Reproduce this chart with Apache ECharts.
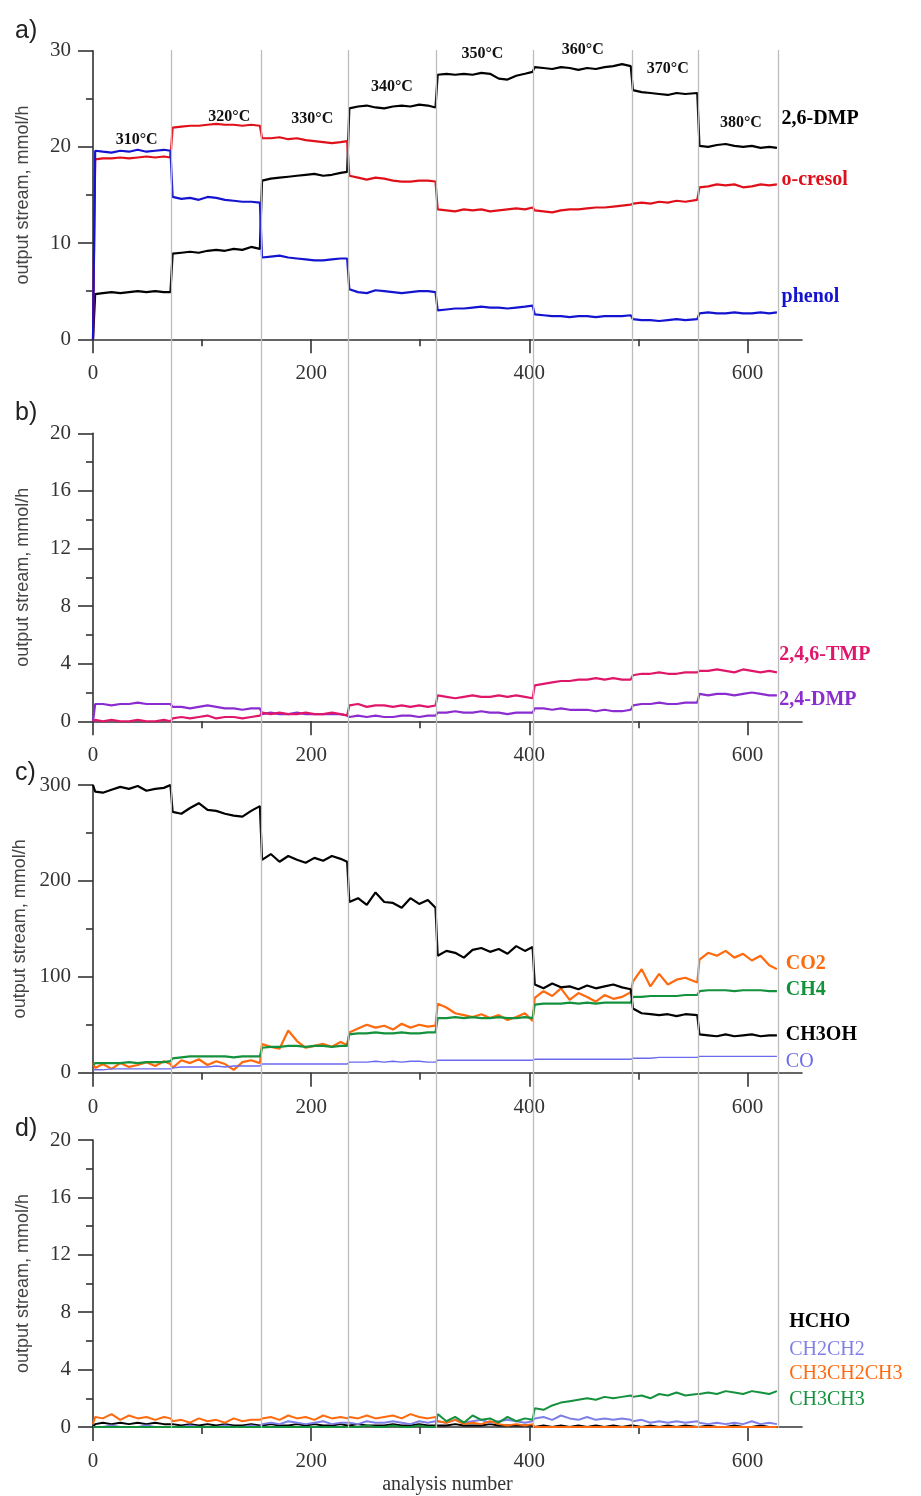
<!DOCTYPE html>
<html>
<head>
<meta charset="utf-8">
<script src="https://cdn.jsdelivr.net/npm/echarts@6/dist/echarts.min.js"></script>
<style>
  html, body { margin: 0; padding: 0; background: #fff; }
  #main { width: 921px; height: 1496px; }
</style>
</head>
<body>
<div id="main"></div>
<script>
// analysis numbers sampled along the run (shared by every trace)
var X = [0, 2, 9, 17, 25, 33, 41, 49, 57, 65, 71,
  73, 81, 89, 97, 105, 113, 121, 129, 137, 145, 153,
  155, 163, 171, 179, 187, 195, 203, 211, 219, 227, 233,
  235, 243, 251, 259, 267, 275, 283, 291, 299, 307, 314,
  316, 324, 332, 340, 348, 356, 364, 372, 380, 388, 396, 403,
  405, 413, 421, 429, 437, 445, 453, 461, 469, 477, 485, 493,
  495, 503, 511, 519, 527, 535, 543, 554,
  556, 564, 572, 580, 588, 596, 604, 612, 620, 627];

// temperature step changes
var boundaries = [72, 154, 234, 315, 404, 494, 555, 628];
var tempNames = ['310°C', '320°C', '330°C', '340°C', '350°C', '360°C', '370°C', '380°C'];
var tempX = [40, 125, 201, 274, 357, 449, 527, 594];
var tempY = [20.7, 23.1, 22.9, 26.2, 29.7, 30.1, 28.1, 22.5];

// a) mmol/h
var dmp26 = [0, 4.7, 4.8, 4.9, 4.8, 4.9, 5.0, 4.9, 5.0, 4.9, 4.9,
  8.9, 9.0, 9.1, 9.0, 9.2, 9.3, 9.2, 9.4, 9.3, 9.6, 9.4,
  16.5, 16.7, 16.8, 16.9, 17.0, 17.1, 17.2, 17.0, 17.1, 17.3, 17.4,
  24.0, 24.2, 24.3, 24.1, 24.0, 24.2, 24.3, 24.2, 24.4, 24.3, 24.1,
  27.5, 27.6, 27.5, 27.6, 27.5, 27.7, 27.6, 27.1, 27.0, 27.4, 27.6, 27.8,
  28.3, 28.2, 28.1, 28.3, 28.2, 28.0, 28.2, 28.1, 28.3, 28.4, 28.6, 28.4,
  25.9, 25.7, 25.6, 25.5, 25.4, 25.6, 25.5, 25.6,
  20.1, 20.0, 20.2, 20.3, 20.1, 20.0, 20.1, 19.9, 20.0, 19.9];
var cresol = [0, 18.7, 18.8, 18.8, 18.9, 18.8, 18.9, 19.0, 18.9, 19.0, 18.9,
  22.0, 22.1, 22.2, 22.2, 22.3, 22.4, 22.3, 22.3, 22.2, 22.3, 22.2,
  20.9, 20.9, 21.0, 20.8, 20.9, 20.7, 20.6, 20.5, 20.4, 20.5, 20.6,
  17.0, 16.8, 16.6, 16.8, 16.7, 16.5, 16.4, 16.4, 16.5, 16.5, 16.4,
  13.5, 13.4, 13.3, 13.5, 13.4, 13.5, 13.3, 13.4, 13.5, 13.6, 13.5, 13.7,
  13.4, 13.3, 13.2, 13.4, 13.5, 13.5, 13.6, 13.7, 13.7, 13.8, 13.9, 14.0,
  14.1, 14.2, 14.1, 14.3, 14.2, 14.4, 14.3, 14.5,
  15.8, 15.9, 16.1, 16.0, 16.1, 15.8, 15.9, 16.1, 16.0, 16.1];
var phenol = [0, 19.6, 19.5, 19.4, 19.6, 19.5, 19.7, 19.5, 19.6, 19.7, 19.6,
  14.8, 14.6, 14.7, 14.5, 14.8, 14.7, 14.5, 14.4, 14.3, 14.3, 14.2,
  8.5, 8.6, 8.7, 8.5, 8.4, 8.3, 8.2, 8.2, 8.3, 8.4, 8.4,
  5.2, 4.9, 4.8, 5.1, 5.0, 4.9, 4.8, 4.9, 5.0, 5.0, 4.9,
  3.0, 3.1, 3.2, 3.2, 3.3, 3.4, 3.3, 3.3, 3.2, 3.3, 3.4, 3.5,
  2.6, 2.5, 2.4, 2.4, 2.3, 2.4, 2.4, 2.3, 2.4, 2.4, 2.4, 2.5,
  2.1, 2.0, 2.0, 1.9, 2.0, 2.1, 2.0, 2.1,
  2.7, 2.8, 2.7, 2.7, 2.8, 2.7, 2.7, 2.8, 2.7, 2.8];

// b)
var tmp246 = [0, 0.1, 0.0, 0.1, 0.0, 0.0, 0.1, 0.0, 0.0, 0.1, 0.0,
  0.2, 0.3, 0.2, 0.3, 0.4, 0.2, 0.3, 0.3, 0.2, 0.3, 0.4,
  0.6, 0.5, 0.6, 0.5, 0.5, 0.6, 0.5, 0.5, 0.6, 0.5, 0.4,
  1.1, 1.2, 1.0, 1.1, 1.1, 1.0, 1.1, 1.0, 1.1, 1.0, 1.1,
  1.8, 1.7, 1.6, 1.7, 1.8, 1.7, 1.7, 1.8, 1.7, 1.8, 1.7, 1.6,
  2.5, 2.6, 2.7, 2.8, 2.8, 2.9, 2.9, 3.0, 2.9, 3.0, 2.9, 2.9,
  3.2, 3.3, 3.3, 3.4, 3.3, 3.3, 3.4, 3.4,
  3.5, 3.5, 3.6, 3.5, 3.4, 3.6, 3.5, 3.4, 3.5, 3.4];
var dmp24 = [0, 1.2, 1.2, 1.1, 1.2, 1.2, 1.3, 1.2, 1.2, 1.2, 1.2,
  1.0, 1.0, 0.9, 1.0, 1.1, 1.0, 0.9, 0.9, 0.8, 0.9, 0.9,
  0.5, 0.6, 0.5, 0.5, 0.6, 0.5, 0.5, 0.5, 0.5, 0.5, 0.4,
  0.3, 0.4, 0.3, 0.4, 0.3, 0.3, 0.4, 0.4, 0.3, 0.4, 0.4,
  0.6, 0.6, 0.7, 0.6, 0.6, 0.7, 0.6, 0.6, 0.5, 0.6, 0.6, 0.6,
  0.9, 0.9, 0.8, 0.9, 0.8, 0.8, 0.8, 0.7, 0.8, 0.7, 0.7, 0.8,
  1.1, 1.2, 1.2, 1.3, 1.2, 1.2, 1.3, 1.3,
  1.9, 1.8, 1.9, 1.9, 1.8, 1.9, 2.0, 1.9, 1.8, 1.8];

// c)
var ch3oh = [300, 293, 292, 295, 298, 296, 299, 294, 296, 297, 300,
  272, 270, 276, 281, 274, 273, 270, 268, 267, 273, 278,
  222, 228, 220, 226, 222, 219, 224, 221, 226, 223, 220,
  178, 182, 175, 188, 178, 177, 172, 182, 176, 180, 172,
  122, 127, 125, 120, 128, 130, 126, 129, 124, 132, 127, 131,
  92, 88, 93, 89, 90, 87, 91, 88, 90, 92, 89, 87,
  67, 62, 61, 60, 61, 59, 61, 60,
  40, 39, 38, 40, 38, 39, 40, 38, 39, 39];
var co2 = [10, 5, 9, 4, 10, 6, 8, 11, 7, 12, 9,
  5, 13, 10, 14, 8, 12, 9, 3, 11, 13, 10,
  30, 27, 25, 44, 33, 26, 28, 30, 27, 32, 29,
  42, 46, 50, 47, 49, 45, 51, 47, 50, 48, 49,
  72, 68, 62, 60, 58, 61, 57, 60, 55, 58, 62, 54,
  78, 85, 80, 88, 76, 83, 79, 74, 81, 77, 79, 84,
  95, 108, 90, 103, 92, 97, 99, 94,
  118, 125, 122, 127, 120, 124, 117, 122, 112, 108];
var ch4 = [8, 10, 10, 10, 10, 11, 10, 11, 11, 11, 12,
  15, 16, 17, 17, 17, 17, 17, 16, 17, 17, 17,
  26, 27, 27, 28, 28, 27, 28, 28, 27, 28, 28,
  40, 41, 41, 42, 41, 41, 42, 41, 41, 42, 42,
  57, 57, 58, 57, 58, 57, 57, 58, 57, 57, 58, 57,
  71, 72, 72, 72, 73, 72, 73, 72, 73, 73, 73, 73,
  79, 79, 80, 80, 80, 80, 81, 81,
  85, 86, 86, 86, 85, 86, 86, 86, 85, 85];
var co = [3, 3, 3, 4, 4, 4, 4, 4, 4, 4, 4,
  5, 6, 6, 6, 6, 7, 6, 7, 7, 7, 7,
  9, 9, 9, 9, 9, 9, 9, 9, 9, 9, 9,
  11, 11, 11, 12, 11, 12, 11, 12, 12, 11, 11,
  13, 13, 13, 13, 13, 13, 13, 13, 13, 13, 13, 13,
  14, 14, 14, 14, 14, 14, 14, 14, 14, 14, 14, 14,
  15, 15, 15, 16, 16, 16, 16, 16,
  17, 17, 17, 17, 17, 17, 17, 17, 17, 17];

// d)
var hcho = [0.0, 0.2, 0.3, 0.2, 0.3, 0.2, 0.3, 0.2, 0.3, 0.2, 0.2,
  0.2, 0.1, 0.2, 0.1, 0.2, 0.1, 0.2, 0.1, 0.1, 0.2, 0.1,
  0.1, 0.2, 0.1, 0.1, 0.2, 0.1, 0.2, 0.1, 0.1, 0.2, 0.1,
  0.1, 0.2, 0.1, 0.1, 0.1, 0.2, 0.1, 0.1, 0.2, 0.1, 0.1,
  0.1, 0.1, 0.2, 0.1, 0.1, 0.1, 0.2, 0.1, 0.1, 0.1, 0.1, 0.1,
  0.0, 0.1, 0.0, 0.1, 0.0, 0.1, 0.0, 0.1, 0.0, 0.1, 0.0, 0.1,
  0.1, 0.0, 0.1, 0.0, 0.1, 0.0, 0.1, 0.0,
  0.0, 0.1, 0.0, 0.0, 0.1, 0.0, 0.0, 0.1, 0.0, 0.0];
var ch2ch2 = [0.0, 0.0, 0.0, 0.1, 0.0, 0.0, 0.0, 0.1, 0.0, 0.0, 0.0,
  0.0, 0.0, 0.1, 0.0, 0.0, 0.0, 0.1, 0.0, 0.0, 0.1, 0.0,
  0.2, 0.3, 0.2, 0.4, 0.3, 0.2, 0.3, 0.4, 0.2, 0.3, 0.3,
  0.3, 0.2, 0.4, 0.3, 0.3, 0.4, 0.3, 0.2, 0.4, 0.3, 0.4,
  0.4, 0.3, 0.5, 0.3, 0.4, 0.5, 0.3, 0.4, 0.5, 0.4, 0.3, 0.4,
  0.6, 0.7, 0.5, 0.8, 0.6, 0.5, 0.7, 0.5, 0.6, 0.5, 0.6, 0.5,
  0.4, 0.5, 0.3, 0.4, 0.3, 0.4, 0.3, 0.4,
  0.3, 0.2, 0.3, 0.2, 0.3, 0.2, 0.4, 0.2, 0.3, 0.2];
var propane = [0.2, 0.7, 0.6, 0.9, 0.5, 0.8, 0.6, 0.7, 0.5, 0.7, 0.6,
  0.4, 0.5, 0.3, 0.6, 0.4, 0.5, 0.3, 0.6, 0.4, 0.5, 0.5,
  0.6, 0.7, 0.5, 0.8, 0.6, 0.7, 0.5, 0.8, 0.6, 0.7, 0.6,
  0.7, 0.6, 0.8, 0.6, 0.7, 0.8, 0.6, 0.9, 0.7, 0.6, 0.7,
  0.4, 0.3, 0.5, 0.2, 0.3, 0.2, 0.4, 0.2, 0.1, 0.2, 0.1, 0.2,
  0.0, 0.0, 0.0, 0.0, 0.0, 0.0, 0.0, 0.0, 0.0, 0.0, 0.0, 0.0,
  0.0, 0.0, 0.0, 0.0, 0.0, 0.0, 0.0, 0.0,
  0.0, 0.0, 0.0, 0.0, 0.0, 0.0, 0.0, 0.0, 0.0, 0.0];
var ethane = [0.0, 0.0, 0.0, 0.0, 0.0, 0.0, 0.0, 0.0, 0.0, 0.0, 0.0,
  0.0, 0.0, 0.0, 0.0, 0.0, 0.0, 0.0, 0.0, 0.0, 0.0, 0.0,
  0.0, 0.0, 0.0, 0.0, 0.0, 0.0, 0.0, 0.0, 0.0, 0.0, 0.0,
  0.0, 0.0, 0.1, 0.0, 0.0, 0.1, 0.0, 0.0, 0.1, 0.0, 0.0,
  0.9, 0.4, 0.7, 0.3, 0.8, 0.5, 0.6, 0.3, 0.7, 0.4, 0.6, 0.5,
  1.3, 1.2, 1.5, 1.7, 1.8, 1.9, 2.0, 1.9, 2.1, 2.0, 2.1, 2.2,
  2.1, 2.2, 2.0, 2.3, 2.2, 2.4, 2.2, 2.3,
  2.3, 2.4, 2.3, 2.5, 2.4, 2.3, 2.5, 2.4, 2.3, 2.5];

// label text and where it sits (data units)
var aNames = ['2,6-DMP', 'o-cresol', 'phenol'];
var aLabelY = [22.9, 16.6, 4.4];
var bNames = ['2,4,6-TMP', '2,4-DMP'];
var bLabelY = [4.6, 1.5];
var cNames = ['CO2', 'CH4', 'CH3OH', 'CO'];
var cLabelY = [114, 86, 39, 11];
var dNames = ['HCHO', 'CH2CH2', 'CH3CH2CH3', 'CH3CH3'];
var dLabelY = [7.3, 5.4, 3.7, 1.9];

var SERIF = 'Liberation Serif';
var SANS = 'Liberation Sans';
var C = {
  black: '#000000', red: '#e0101a', blue: '#1414d0',
  pink: '#e0166a', purple: '#8a2ccf',
  orange: '#ff6a0e', green: '#14913c', co: '#6a6aee', ethylene: '#7f7fe8'
};

var myChart = echarts.init(document.getElementById('main'));

function pts(arr) {
  return X.map(function (x, i) { return [x, arr[i]]; });
}

function line(gi, name, arr, color, width) {
  return {
    name: name, type: 'line', xAxisIndex: gi, yAxisIndex: gi,
    data: pts(arr), showSymbol: false, symbol: 'none',
    lineStyle: { color: color, width: width }, itemStyle: { color: color },
    z: 3, silent: true
  };
}

function labels(gi, x, names, ys, colors, weights, size) {
  return {
    type: 'scatter', xAxisIndex: gi, yAxisIndex: gi, symbolSize: 1, clip: false,
    itemStyle: { color: 'rgba(0,0,0,0)', opacity: 1 }, silent: true, z: 5,
    data: names.map(function (n, i) {
      return {
        value: [x, ys[i]], name: n,
        label: {
          show: true, position: 'right', distance: 3, formatter: n, opacity: 1,
          fontFamily: SERIF, fontSize: size, color: colors[i], fontWeight: weights[i],
          textBorderWidth: 0
        }
      };
    })
  };
}

var gridTops = [50.7, 433.3, 785, 1140];
var gridHeights = [288.6, 288, 287.7, 287.7];
var yMax = [30, 20, 300, 20];
var yStep = [10, 4, 100, 4];

var grids = [], xAxes = [], yAxes = [];
for (var g = 0; g < 4; g++) {
  grids.push({ left: 93, width: 709, top: gridTops[g], height: gridHeights[g] });
  xAxes.push({
    gridIndex: g, type: 'value', min: 0, max: 650, interval: 200,
    splitLine: { show: false },
    axisLine: { lineStyle: { color: '#333', width: 1.6 } },
    axisTick: { length: 14, customValues: [0, 200, 400, 600], lineStyle: { color: '#333', width: 1.6 } },
    minorTick: { show: true, splitNumber: 2, length: 7, lineStyle: { color: '#333', width: 1.6 } },
    axisLabel: { customValues: [0, 200, 400, 600], margin: 24, fontFamily: SERIF, fontSize: 21, color: '#333' },
    name: g === 3 ? 'analysis number' : '',
    nameLocation: 'middle', nameGap: 48,
    nameTextStyle: { fontFamily: SERIF, fontSize: 20, color: '#333' }
  });
  yAxes.push({
    gridIndex: g, type: 'value', min: 0, max: yMax[g], interval: yStep[g],
    splitLine: { show: false },
    axisLine: { show: true, lineStyle: { color: '#333', width: 1.6 } },
    axisTick: { show: true, length: 15, lineStyle: { color: '#333', width: 1.6 } },
    minorTick: { show: true, splitNumber: 2, length: 7, lineStyle: { color: '#333', width: 1.6 } },
    axisLabel: { margin: 22, fontFamily: SERIF, fontSize: 21, color: '#333' },
    name: 'output stream, mmol/h', nameLocation: 'middle', nameGap: 61,
    nameTextStyle: { fontFamily: SANS, fontSize: 18, color: '#444' }
  });
}
// overlay spanning all panels for the temperature change lines
grids.push({ left: 93, width: 709, top: 50, height: 1377.7 });
xAxes.push({ gridIndex: 4, type: 'value', min: 0, max: 650, show: false });
yAxes.push({ gridIndex: 4, type: 'value', min: 0, max: 1, show: false });

var series = [
  {
    type: 'line', xAxisIndex: 4, yAxisIndex: 4, data: [], silent: true, z: 1,
    markLine: {
      symbol: 'none', silent: true, animation: false, label: { show: false },
      lineStyle: { color: '#bdbdbd', width: 1.3, type: 'solid' },
      data: boundaries.map(function (b) { return { xAxis: b }; })
    }
  },
  line(0, '2,6-DMP', dmp26, C.black, 2.2),
  line(0, 'o-cresol', cresol, C.red, 2.2),
  line(0, 'phenol', phenol, C.blue, 2.2),
  line(1, '2,4-DMP', dmp24, C.purple, 2.2),
  line(1, '2,4,6-TMP', tmp246, C.pink, 2.2),
  line(2, 'CO2', co2, C.orange, 2.2),
  line(2, 'CH4', ch4, C.green, 2.2),
  line(2, 'CO', co, C.co, 1.4),
  line(2, 'CH3OH', ch3oh, C.black, 2.2),
  line(3, 'HCHO', hcho, C.black, 2),
  line(3, 'CH2CH2', ch2ch2, C.ethylene, 2),
  line(3, 'CH3CH2CH3', propane, C.orange, 2),
  line(3, 'CH3CH3', ethane, C.green, 2),
  {
    type: 'scatter', xAxisIndex: 0, yAxisIndex: 0, symbolSize: 1, clip: false, silent: true, z: 5,
    itemStyle: { color: 'rgba(0,0,0,0)', opacity: 1 },
    label: { show: true, position: 'inside', formatter: function (p) { return p.name; }, opacity: 1,
      fontFamily: SERIF, fontSize: 16, fontWeight: 'bold', color: '#111', textBorderWidth: 0 },
    data: tempNames.map(function (n, i) { return { name: n, value: [tempX[i], tempY[i]] }; })
  },
  labels(0, 628, aNames, aLabelY, [C.black, C.red, C.blue], ['bold', 'bold', 'bold'], 20),
  labels(1, 626, bNames, bLabelY, [C.pink, C.purple], ['bold', 'bold'], 20),
  labels(2, 632, cNames, cLabelY, [C.orange, C.green, C.black, C.co], ['bold', 'bold', 'bold', 'normal'], 20),
  labels(3, 635, dNames, dLabelY, [C.black, C.ethylene, C.orange, C.green], ['bold', 'normal', 'normal', 'normal'], 20)
];

var option = {
  backgroundColor: '#fff',
  animation: false,
  title: ['a)', 'b)', 'c)', 'd)'].map(function (t, i) {
    return { text: t, left: 10, top: [14, 396, 756, 1112][i],
      textStyle: { fontFamily: SANS, fontSize: 25, fontWeight: 'normal', color: '#222' } };
  }),
  grid: grids,
  xAxis: xAxes,
  yAxis: yAxes,
  series: series
};

option && myChart.setOption(option);
</script>
</body>
</html>
